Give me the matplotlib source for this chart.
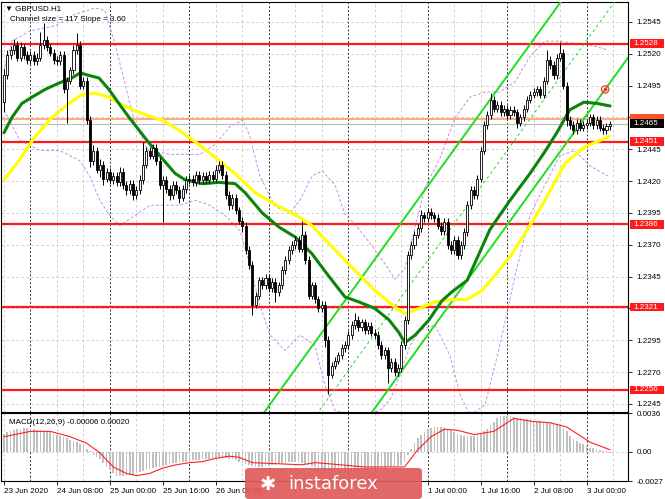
import numpy as np
import matplotlib
matplotlib.use("Agg")
import matplotlib.pyplot as plt
from matplotlib.patches import FancyBboxPatch, Rectangle

plt.rcParams["font.family"] = ["Liberation Sans", "DejaVu Sans"]

# ---- data (prices 1.xxxx stored as xxxx pips) ----
closes = [2503, 2519, 2523, 2527, 2517, 2525, 2519, 2515, 2519, 2514,
          2517, 2527, 2531, 2525, 2521, 2515, 2514, 2519, 2492, 2499,
          2507, 2523, 2527, 2495, 2499, 2468, 2436, 2444, 2429, 2433,
          2422, 2427, 2421, 2424, 2419, 2427, 2417, 2413, 2418, 2409,
          2413, 2421, 2433, 2444, 2440, 2446, 2436, 2417, 2421, 2414,
          2409, 2417, 2413, 2407, 2414, 2421, 2422, 2419, 2425, 2421,
          2424, 2421, 2425, 2422, 2429, 2433, 2425, 2409, 2401, 2407,
          2397, 2389, 2385, 2366, 2354, 2323, 2330, 2342, 2338, 2344,
          2336, 2341, 2333, 2338, 2350, 2358, 2366, 2370, 2374, 2367,
          2378, 2358, 2330, 2338, 2327, 2320, 2323, 2295, 2268, 2275,
          2279, 2283, 2289, 2291, 2299, 2307, 2311, 2305, 2309, 2303,
          2306, 2301, 2299, 2291, 2283, 2287, 2273, 2278, 2270, 2273,
          2291, 2311, 2362, 2370, 2378, 2383, 2393, 2391, 2396, 2393,
          2391, 2385, 2381, 2388, 2370, 2366, 2374, 2362, 2370, 2380,
          2401, 2413, 2409, 2422, 2444, 2464, 2472, 2484, 2477, 2480,
          2474, 2477, 2472, 2476, 2474, 2466, 2470, 2477, 2484, 2488,
          2490, 2492, 2488, 2499, 2515, 2511, 2503, 2517, 2521, 2495,
          2468, 2464, 2460, 2466, 2462, 2464, 2466, 2470, 2464, 2468,
          2462, 2460, 2463, 2465]
first_open = 2482
hi_wick = [5, 4, 3, 5, 3, 4, 3, 3, 3, 3, 4, 10, 13, 3, 3, 3, 3, 3, 3, 3,
           3, 4, 9, 3, 3, 3, 3, 4, 3, 4, 3, 3, 3, 3, 3, 4, 3, 3, 3, 3,
           3, 4, 18, 3, 3, 3, 3, 3, 3, 3, 3, 3, 3, 3, 3, 3, 3, 3, 3, 3,
           3, 3, 3, 3, 4, 3, 3, 3, 3, 3, 3, 3, 3, 3, 3, 3, 3, 3, 3, 3,
           3, 3, 3, 3, 3, 3, 3, 3, 3, 3, 11, 3, 3, 3, 3, 3, 3, 3, 3, 3,
           3, 3, 3, 3, 3, 3, 5, 3, 3, 3, 3, 3, 3, 3, 3, 3, 3, 3, 3, 3,
           3, 3, 3, 3, 3, 3, 4, 3, 3, 3, 3, 3, 3, 3, 3, 3, 3, 3, 3, 3,
           3, 3, 3, 3, 3, 3, 3, 5, 3, 3, 3, 3, 3, 3, 3, 3, 3, 3, 3, 3,
           3, 3, 3, 3, 8, 3, 3, 3, 8, 3, 3, 3, 3, 3, 3, 3, 3, 3, 3, 3,
           3, 3, 3, 2]
lo_wick = [8, 3, 3, 3, 3, 3, 3, 3, 3, 3, 3, 3, 3, 3, 3, 3, 3, 3, 3, 26,
           3, 3, 3, 3, 3, 3, 5, 3, 3, 6, 5, 3, 3, 3, 3, 3, 3, 4, 3, 4,
           3, 3, 3, 3, 3, 3, 3, 3, 29, 3, 4, 3, 3, 4, 3, 3, 3, 3, 3, 3,
           3, 3, 3, 3, 3, 3, 3, 3, 4, 3, 3, 3, 5, 3, 3, 8, 3, 3, 3, 3,
           3, 3, 8, 3, 3, 3, 3, 3, 3, 3, 3, 3, 3, 3, 3, 3, 3, 5, 15, 3,
           3, 3, 3, 3, 3, 3, 3, 3, 3, 3, 3, 3, 3, 3, 3, 3, 12, 3, 3, 3,
           3, 3, 3, 3, 3, 3, 3, 3, 3, 3, 3, 3, 3, 3, 3, 3, 3, 3, 3, 3,
           3, 3, 3, 3, 3, 3, 3, 3, 3, 3, 3, 3, 3, 3, 3, 4, 3, 3, 3, 3,
           3, 3, 3, 3, 3, 3, 3, 3, 3, 3, 5, 3, 3, 3, 3, 3, 3, 3, 3, 3,
           3, 3, 3, 3]

# moving averages (bar, pips)
ma_green_bar = [0, 2.4, 5.4, 8.5, 12.4, 16.6, 20.5, 23, 25.7, 28.7, 31.7, 34.7, 37.8, 40.8,
                43.8, 47.7, 51.7, 54.7, 59.8, 65, 69.8, 72.8, 78, 83, 88, 93, 98.2, 103,
                107.3, 112, 116.3, 119.3, 121.1, 124.2, 128.4, 132.3, 135.3, 139.9, 146.8,
                152.9, 158.9, 163.1, 167, 170.9, 175.2, 179.2, 183.1]
ma_green = [2458, 2470, 2481, 2486, 2492, 2497, 2501, 2505, 2503, 2501, 2492, 2481, 2470, 2460,
            2450, 2438, 2426, 2421, 2418, 2419, 2418, 2411, 2395, 2384, 2376, 2363, 2345, 2329,
            2325, 2320, 2311, 2301, 2293, 2299, 2311, 2326, 2333, 2342, 2382,
            2405, 2426, 2442, 2458, 2476, 2482, 2481, 2479]
ma_yellow_bar = [0, 4.5, 9.4, 14.5, 19.6, 23.6, 27.5, 31.7, 35.6, 41.7, 47.7, 52.9, 59.8, 65,
                 69.8, 75.8, 83.1, 89.1, 93, 100, 106, 112.1, 118.1, 121.1, 125.4, 130.2,
                 135.3, 139.9, 144.4, 149, 153.5, 158.6, 163.4, 169.5, 175.5, 182.8]
ma_yellow = [2421, 2436, 2455, 2470, 2481, 2488, 2489, 2486, 2480, 2473, 2468, 2460, 2447, 2436,
             2426, 2411, 2400, 2392, 2385, 2366, 2350, 2334, 2321, 2316, 2320, 2325,
             2327, 2327, 2334, 2348, 2363, 2384, 2405, 2434, 2447, 2455]

# bands (bar, pips)
band_up_bar = [0, 2.4, 7.9, 15.4, 21.5, 27.5, 30.5, 33.5, 36.6, 39.6, 43.5, 50.2, 59.2, 63.8,
               68.3, 72.2, 74.3, 77.3, 81.9, 86.4, 89.4, 93.1, 96.1, 100, 103, 106.1, 110.6,
               115.1, 118.1, 121.1, 124.1, 127.2, 131.7, 136.3, 140.8, 145.3, 149.8, 154.4,
               158.9, 163.4, 167.9, 172.4, 177, 182.4]
band_up = [2507, 2530, 2538, 2542, 2551, 2556, 2554, 2528, 2496, 2465, 2444, 2441, 2441, 2449,
           2463, 2468, 2455, 2424, 2400, 2395, 2405, 2424, 2428, 2417, 2394, 2386, 2371,
           2355, 2343, 2351, 2383, 2415, 2438, 2470, 2486, 2490, 2490, 2498, 2518, 2530,
           2530, 2528, 2527, 2523]
band_lo_bar = [0, 4.8, 10.9, 16.9, 22.9, 25.9, 28.9, 32, 35, 39.6, 44.1, 48.6, 53.2, 57.7,
               62.2, 66.8, 71.3, 74.3, 77.3, 80.4, 84.9, 89.4, 93.9, 96.9, 100, 104.5, 109.1,
               113.6, 116.6, 119.6, 122.7, 125.7, 130.2, 134.7, 137.8, 140.8, 145.3, 149.8,
               154.4, 158.9, 163.4, 167.9, 172.4, 177, 182.4]
band_lo = [2476, 2452, 2444, 2444, 2436, 2424, 2405, 2393, 2385, 2393, 2401, 2401, 2401, 2405,
           2401, 2393, 2381, 2354, 2322, 2299, 2287, 2299, 2291, 2260, 2240, 2236, 2236,
           2240, 2248, 2267, 2291, 2303, 2307, 2283, 2252, 2236, 2244, 2291, 2346, 2393,
           2417, 2440, 2444, 2432, 2424]

levels = [1.2528, 1.2451, 1.2386, 1.2321, 1.2256]
orange_level = 1.2469
bid = 1.2465
price_ticks = [1.2245, 1.2270, 1.2295, 1.2320, 1.2345, 1.2370, 1.2395, 1.2420,
               1.2445, 1.2470, 1.2495, 1.2520, 1.2545]
hidden_ticks = [1.2320, 1.2470]   # covered by the level boxes

# regression channel: slope 3.6 pips/bar, size 117 pips
chan_bar0, chan_price0 = 126.3, 2410
chan_slope, chan_size = 3.6, 117
alert_bar, alert_price = 181.6, 2492

# MACD histogram and signal (x 1e-4)
macd_hist = [17, 18, 19, 20, 21, 21, 22, 22, 21, 21, 20, 20, 19, 19, 18, 17, 16, 15, 14, 13,
             11, 10, 9, 7, 5, 3, 1, -3, -5, -7, -10, -14, -17, -20, -22, -22, -22, -22, -21, -21,
             -20, -19, -18, -17, -16, -15, -14, -14, -13, -12, -11, -10, -10, -9, -9, -9, -9, -8,
             -8, -8, -7, -7, -7, -7, -6, -6, -6, -6, -7, -7, -8, -9, -10, -11, -12, -13, -14, -14,
             -14, -13, -13, -12, -12, -11, -10, -10, -9, -9, -9, -9, -10, -11, -12, -13, -14, -15,
             -16, -17, -18, -19, -19, -20, -20, -20, -20, -19, -19, -18, -18, -17, -17, -16, -16,
             -15, -15, -15, -14, -14, -14, -13, -12, -9, -3, 3, 8, 13, 16, 18, 21, 22, 23, 23, 23,
             22, 21, 20, 18, 17, 16, 15, 15, 15, 15, 16, 17, 19, 21, 25, 28, 31, 33, 33, 33, 33,
             32, 31, 31, 30, 30, 30, 29, 29, 29, 28, 28, 27, 27, 26, 25, 22, 19, 15, 12, 10, 8, 7,
             5, 4, 4, 3, 2, 1, 1, -0.6]
signal_bar = [0, 8, 14, 20, 25, 29, 33, 37, 40, 44, 48, 52, 56, 60, 64, 68, 71, 75, 90, 94, 98,
              109, 121, 125, 129, 133, 137, 142, 148, 154, 160, 165, 170, 177, 183]
signal = [14, 19, 19, 14, 8, -1, -14, -20, -22, -20, -15, -12, -10, -9, -6, -4, -5, -10, -12, -10,
          -11, -14, -14, 2, 14, 21, 20, 16, 19, 31, 28, 27, 23, 9, 2]

date_labels = ["23 Jun 2020", "24 Jun 08:00", "25 Jun 00:00", "25 Jun 16:00", "26 Jun 08:00",
               "", "", "", "1 Jul 00:00", "1 Jul 16:00", "2 Jul 08:00", "3 Jul 00:00"]

# ---- prepare ----
def px(v):
    return 1 + np.asarray(v, dtype=float) / 10000

c = px(closes)
o = np.concatenate([[px(first_open)], c[:-1]])
h = np.maximum(o, c) + np.array(hi_wick) / 10000
l = np.minimum(o, c) - np.array(lo_wick) / 10000
n = len(c)
idx = np.arange(n)

W, H = 665, 499
FS = 5.8
fig = plt.figure(figsize=(W / 100, H / 100), dpi=100)
fig.patch.set_facecolor("white")
ax = fig.add_axes([1 / W, 1 - 412 / H, 627 / W, 410 / H])
ax2 = fig.add_axes([1 / W, 1 - 481 / H, 627 / W, 68 / H])

for a in (ax, ax2):
    a.set_xlim(-0.9, 188.5)
    for s in a.spines.values():
        s.set_color("black")
        s.set_linewidth(0.8)
ax.set_ylim(1.22386, 1.25607)
ax2.set_ylim(-0.0027, 0.0036)

# grid + day separators
grid_kw = dict(color="#c8c8c8", lw=0.6, ls=(0, (3, 3)), zorder=0)
for b in range(0, 190, 8):
    for a in (ax, ax2):
        if b % 24 == 8:
            a.axvline(b, color="#333333", lw=0.7, ls=(0, (2, 2)), zorder=0.5)
        else:
            a.axvline(b, **grid_kw)
for p in price_ticks:
    ax.axhline(p, **grid_kw)
ax2.axhline(0, **grid_kw)

# bands
band_kw = dict(color="#c78ee8", lw=0.7, ls=(0, (3, 2)), zorder=1)
ax.plot(band_up_bar, px(band_up), **band_kw)
ax.plot(band_lo_bar, px(band_lo), **band_kw)

# horizontal levels
for lv in levels:
    ax.axhline(lv, color="#ff1a1a", lw=1.6, zorder=2)
ax.axhline(orange_level, color="#ff9966", lw=1.2, zorder=2)
ax.axhline(bid, color="#bbbbbb", lw=0.8, zorder=2)

# channel
cb = np.array([60, 190])
up_line = px(chan_price0 + chan_slope * (cb - chan_bar0))
lo_line = up_line - chan_size / 10000
mid_line = up_line - chan_size / 20000
ax.plot(cb, up_line, color="#22dd22", lw=1.4, zorder=3)
ax.plot(cb, lo_line, color="#22dd22", lw=1.4, zorder=3)
ax.plot(cb, mid_line, color="#22dd22", lw=0.7, ls=(0, (3, 3)), zorder=3)

# moving averages
ax.plot(ma_yellow_bar, px(ma_yellow), color="#ffff00", lw=2.2, zorder=4, solid_capstyle="round")
ax.plot(ma_green_bar, px(ma_green), color="#0a840a", lw=2.2, zorder=4, solid_capstyle="round")

# candles
ax.vlines(idx, l, h, color="black", lw=0.7, zorder=5)
bull = c >= o
body_b = np.minimum(o, c)
body_h = np.maximum(np.abs(c - o), 0.00003)
ax.bar(idx[bull], body_h[bull], bottom=body_b[bull], width=0.62, color="white",
       edgecolor="black", lw=0.6, zorder=6)
ax.bar(idx[~bull], body_h[~bull], bottom=body_b[~bull], width=0.62, color="black",
       edgecolor="black", lw=0.6, zorder=6)

# alert marker
ax.scatter([alert_bar], [px(alert_price)], s=28, facecolor="none", edgecolor="#ff3333", lw=0.9, zorder=7)
ax.scatter([alert_bar], [px(alert_price)], s=3, color="#ff3333", zorder=7)

# right price axis
ax.yaxis.tick_right()
ax.set_yticks(price_ticks)
ax.set_yticklabels(["" if p in hidden_ticks else f"{p:.4f}" for p in price_ticks])
ax.tick_params(axis="y", labelsize=FS, length=3, width=0.6, pad=3, direction="out")
ax.set_xticks([])
yt = ax.get_yaxis_transform()
bx0, bw, bh = 1.0035, 0.0545, 0.00068


def level_box(y, fc, label=None, z=10):
    ax.add_patch(Rectangle((bx0, y - bh / 2), bw, bh, transform=yt, fc=fc, ec="none",
                           clip_on=False, zorder=z))
    if label:
        ax.text(1.0085, y, label, transform=yt, fontsize=FS, color="white", va="center",
                ha="left", zorder=z + 0.5, clip_on=False)


for lv in levels:
    level_box(lv, "#ff1a1a", f"{lv:.4f}")
level_box(orange_level, "#ff5522", z=9)
level_box(bid, "black", f"{bid:.4f}", z=11)

# MACD
ax2.bar(idx, np.array(macd_hist) / 10000, width=0.5, color="#c0c0c0", zorder=2)
ax2.plot(signal_bar, np.array(signal) / 10000, color="#ff2020", lw=0.8, zorder=3)
ax2.yaxis.tick_right()
ax2.set_yticks([0.0036, 0.0, -0.0027])
ax2.set_yticklabels(["0.0036", "0.00", "-0.0027"])
ax2.tick_params(axis="y", labelsize=FS, length=3, width=0.6, pad=3)
ax2.set_xticks(np.arange(0, 177, 16))
ax2.set_xticklabels(date_labels)
ax2.tick_params(axis="x", labelsize=FS, length=3, width=0.6, pad=2)
for t in ax2.get_xticklabels():
    t.set_ha("left")
ax2.text(0.012, 0.86, "MACD(12,26,9) -0.00006 0.00020", transform=ax2.transAxes,
         fontsize=FS, va="center", ha="left")

# title
ax.text(0.006, 0.982, "\u25bc GBPUSD.H1", transform=ax.transAxes, fontsize=FS, va="center", ha="left", zorder=12)
ax.text(0.014, 0.957, "Channel size = 117 Slope = 3.60", transform=ax.transAxes, fontsize=FS,
        va="center", ha="left", zorder=12)

# logo
logo = FancyBboxPatch((245 / W, 0), 177 / W, 31 / H, boxstyle="round,pad=0,rounding_size=0.006",
                      transform=fig.transFigure, fc="#e05a5a", ec="none", alpha=0.92, zorder=20)
fig.patches.append(logo)
fig.text(333 / W, 15 / H, "instaforex", color="white", fontsize=13, ha="center", va="center",
         zorder=21, family="DejaVu Sans")
fig.text(268 / W, 15 / H, "\u2731", color="white", fontsize=14, ha="center", va="center",
         zorder=21, family="DejaVu Sans")

fig.savefig("out.png", dpi=100)
